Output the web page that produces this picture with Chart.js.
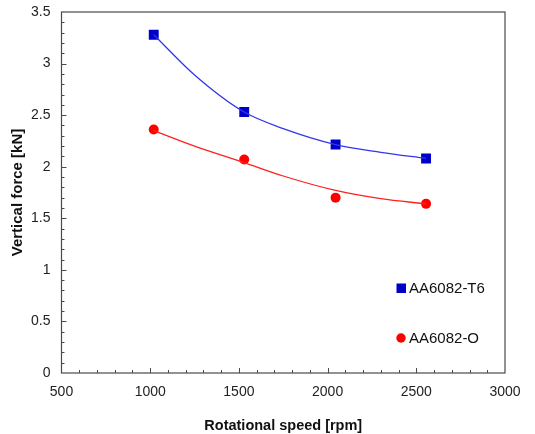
<!DOCTYPE html>
<html>
<head>
<meta charset="utf-8">
<script src="https://cdn.jsdelivr.net/npm/chart.js@4"></script>
<style>
  html, body { margin: 0; padding: 0; background: #fff; }
  #wrap { width: 535px; height: 434px; }
</style>
</head>
<body>
<div id="wrap"><canvas id="force-chart"></canvas></div>
<script>
// measured points (rpm, kN)
const speed_t6 = [1020, 1530, 2045, 2555];
const force_t6 = [3.28, 2.53, 2.215, 2.08];
const speed_o = [1020, 1530, 2045, 2555];
const force_o = [2.36, 2.07, 1.70, 1.64];

// trend curves
const trend_speed = [1020, 1250, 1530, 1750, 2045, 2300, 2555];
const trend_t6 = [3.28, 2.89, 2.53, 2.37, 2.215, 2.14, 2.08];
const trend_o = [2.35, 2.20, 2.04, 1.91, 1.77, 1.69, 1.64];

const x_min = 500, x_max = 3000, x_step = 500;
const y_min = 0, y_max = 3.5, y_step = 0.5;

const series_names = ['AA6082-T6', 'AA6082-O'];

const pts = (xs, ys) => xs.map((x, i) => ({ x: x, y: ys[i] }));
const FONT = '"Liberation Sans", Arial, sans-serif';

// frame + inward ticks + legend inside plot
const framePlugin = {
  id: 'frame',
  afterDraw(chart) {
    const ctx = chart.ctx;
    const a = chart.chartArea;
    const xs = chart.scales.x, ys = chart.scales.y;
    ctx.save();
    ctx.strokeStyle = '#4a4a4a';
    ctx.lineWidth = 1.2;
    ctx.strokeRect(a.left, a.top, a.right - a.left, a.bottom - a.top);
    ctx.lineWidth = 1;
    ctx.beginPath();
    for (let v = x_min + 100; v < x_max; v += 100) {
      const px = Math.round(xs.getPixelForValue(v)) + 0.5;
      const len = (v % x_step === 0) ? 5 : 3;
      ctx.moveTo(px, a.bottom);
      ctx.lineTo(px, a.bottom - len);
    }
    for (let i = 1; i < 35; i++) {
      const v = i / 10;
      const py = Math.round(ys.getPixelForValue(v)) + 0.5;
      const len = (i % 5 === 0) ? 5 : 3;
      ctx.moveTo(a.left, py);
      ctx.lineTo(a.left + len, py);
    }
    ctx.stroke();

    // legend
    ctx.font = '15px ' + FONT;
    ctx.textBaseline = 'middle';
    const lx = a.right - 104;
    const ly1 = a.bottom - 85, ly2 = a.bottom - 35;
    ctx.fillStyle = '#0000c8';
    ctx.fillRect(lx - 4.5, ly1 - 4.5, 9.5, 9.5);
    ctx.fillStyle = '#ff0000';
    ctx.beginPath();
    ctx.arc(lx, ly2, 4.7, 0, Math.PI * 2);
    ctx.fill();
    ctx.fillStyle = '#111';
    ctx.fillText(series_names[0], lx + 8, ly1 + 1);
    ctx.fillText(series_names[1], lx + 8, ly2 + 1);
    ctx.restore();
  }
};

new Chart(document.getElementById('force-chart'), {
  type: 'scatter',
  data: {
    datasets: [
      {
        data: pts(trend_speed, trend_t6),
        showLine: true,
        borderColor: '#3535ee',
        borderWidth: 1.3,
        pointRadius: 0,
        cubicInterpolationMode: 'monotone'
      },
      {
        data: pts(trend_speed, trend_o),
        showLine: true,
        borderColor: '#ff2020',
        borderWidth: 1.3,
        pointRadius: 0,
        cubicInterpolationMode: 'monotone'
      },
      {
        label: series_names[0],
        data: pts(speed_t6, force_t6),
        pointStyle: 'rect',
        pointRadius: 7,
        backgroundColor: '#0000c8',
        borderColor: '#0000c8',
        borderWidth: 0
      },
      {
        label: series_names[1],
        data: pts(speed_o, force_o),
        pointStyle: 'circle',
        pointRadius: 5,
        backgroundColor: '#ff0000',
        borderColor: '#ff0000',
        borderWidth: 0
      }
    ]
  },
  options: {
    responsive: true,
    maintainAspectRatio: false,
    animation: false,
    layout: { padding: { top: 12, right: 30, left: 0, bottom: 0 } },
    plugins: {
      legend: { display: false },
      tooltip: { enabled: false }
    },
    scales: {
      x: {
        type: 'linear',
        min: x_min,
        max: x_max,
        afterFit: (s) => { s.height = 61; },
        ticks: {
          stepSize: x_step,
          padding: 11,
          color: '#222',
          font: { family: FONT, size: 14 },
          callback: (v) => String(v)
        },
        grid: { display: false, drawTicks: false },
        border: { display: false },
        title: {
          display: true,
          text: 'Rotational speed [rpm]',
          color: '#111',
          font: { family: FONT, size: 14.5, weight: 'bold' },
          padding: { top: 7, bottom: -1 }
        }
      },
      y: {
        min: y_min,
        max: y_max,
        afterFit: (s) => { s.width = 61.5; s.paddingTop = 0; s.paddingBottom = 0; },
        ticks: {
          stepSize: y_step,
          padding: 11,
          color: '#222',
          font: { family: FONT, size: 14 },
          callback: (v) => String(v)
        },
        grid: { display: false, drawTicks: false },
        border: { display: false },
        title: {
          display: true,
          text: 'Vertical force [kN]',
          color: '#111',
          font: { family: FONT, size: 15, weight: 'bold' },
          padding: { top: 9, bottom: 0 }
        }
      }
    }
  },
  plugins: [framePlugin]
});
</script>
</body>
</html>
